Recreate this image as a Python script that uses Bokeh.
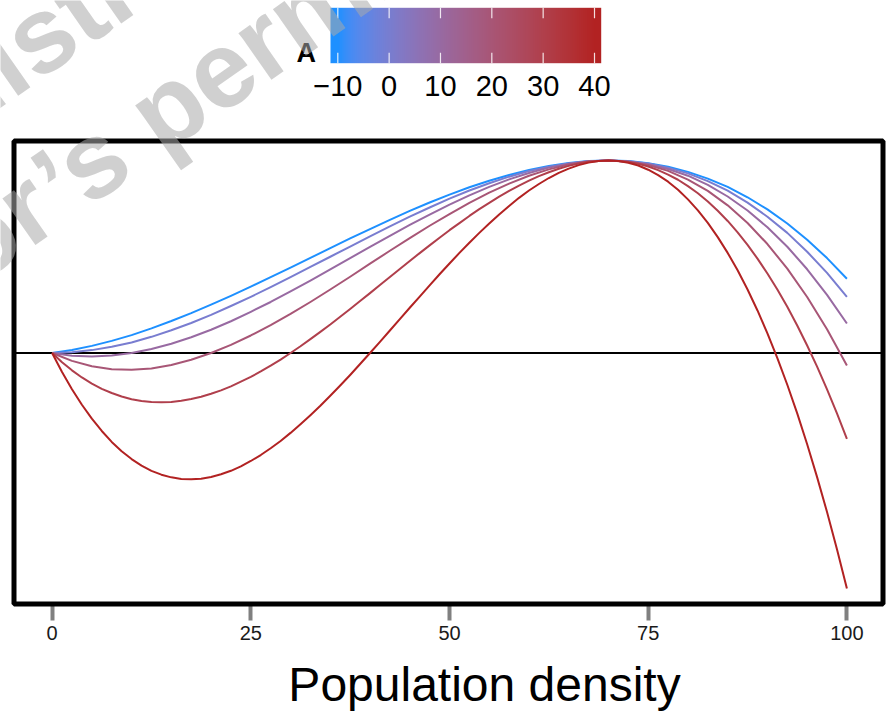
import numpy as np
from bokeh.plotting import figure
from bokeh.models import (ColumnDataSource, Range1d, FixedTicker, LinearColorMapper, Label,
                          LinearAxis, BoxAnnotation)
from bokeh.transform import linear_cmap
from bokeh.embed import file_html
from bokeh.resources import INLINE

# ---------------- data ----------------
x = [0, 2.5, 5, 7.5, 10, 12.5, 15, 17.5, 20, 22.5, 25, 27.5, 30, 32.5, 35, 37.5, 40,
     42.5, 45, 47.5, 50, 52.5, 55, 57.5, 60, 62.5, 65, 67.5, 70, 72.5, 75, 77.5, 80,
     82.5, 85, 87.5, 90, 92.5, 95, 97.5, 100]
x_fine = [0, 1.25, 2.5, 3.75, 5, 6.25, 7.5, 8.75, 10, 11.25, 12.5, 13.75, 15, 16.25, 17.5,
          18.75, 20, 21.25, 22.5, 23.75, 25, 26.25, 27.5, 28.75, 30, 31.25, 32.5, 33.75, 35,
          36.25, 37.5, 38.75, 40, 41.25, 42.5, 43.75, 45, 46.25, 47.5, 48.75, 50, 51.25,
          52.5, 53.75, 55, 56.25, 57.5, 58.75, 60, 61.25, 62.5, 63.75, 65, 66.25, 67.5,
          68.75, 70, 71.25, 72.5, 73.75, 75, 76.25, 77.5, 78.75, 80, 81.25, 82.5, 83.75, 85,
          86.25, 87.5, 88.75, 90, 91.25, 92.5, 93.75, 95, 96.25, 97.5, 98.75, 100]

A_values = [-10, 0, 10, 20, 30, 40]

y_a_m10 = [0, 0.016, 0.037, 0.063, 0.093, 0.128, 0.166, 0.207, 0.251, 0.297, 0.345, 0.394,
           0.444, 0.494, 0.545, 0.595, 0.644, 0.692, 0.738, 0.782, 0.823, 0.861, 0.895, 0.925,
           0.951, 0.972, 0.987, 0.997, 1.000, 0.997, 0.986, 0.968, 0.941, 0.906, 0.863, 0.809,
           0.746, 0.673, 0.588, 0.493, 0.386]
y_a_0 = [0, 0.004, 0.015, 0.032, 0.055, 0.084, 0.118, 0.156, 0.198, 0.244, 0.292, 0.342,
         0.394, 0.447, 0.500, 0.553, 0.606, 0.658, 0.708, 0.756, 0.802, 0.844, 0.882, 0.916,
         0.945, 0.968, 0.985, 0.996, 1.000, 0.996, 0.984, 0.963, 0.933, 0.893, 0.843, 0.781,
         0.708, 0.624, 0.526, 0.416, 0.292]
y_a_10 = [0, -0.014, -0.018, -0.013, 0, 0.021, 0.048, 0.082, 0.121, 0.165, 0.214, 0.265,
          0.320, 0.376, 0.434, 0.493, 0.551, 0.609, 0.665, 0.719, 0.771, 0.819, 0.863, 0.902,
          0.935, 0.963, 0.983, 0.996, 1.000, 0.995, 0.981, 0.956, 0.921, 0.873, 0.813, 0.740,
          0.653, 0.552, 0.435, 0.302, 0.153]
y_a_20 = [0, -0.041, -0.069, -0.084, -0.087, -0.080, -0.062, -0.035, 0, 0.042, 0.091, 0.145,
          0.203, 0.265, 0.330, 0.396, 0.464, 0.531, 0.597, 0.661, 0.722, 0.780, 0.833, 0.880,
          0.921, 0.954, 0.979, 0.995, 1.000, 0.994, 0.977, 0.946, 0.901, 0.842, 0.767, 0.675,
          0.566, 0.438, 0.291, 0.123, -0.065]
# the two most curved series are read at a finer step (x_fine)
y_a_30 = [0, -0.048, -0.090, -0.127, -0.159, -0.186, -0.208, -0.226, -0.240, -0.249,
          -0.255, -0.256, -0.254, -0.248, -0.239, -0.227, -0.212, -0.194, -0.173, -0.149,
          -0.124, -0.096, -0.066, -0.034, 0, 0.035, 0.072, 0.110, 0.148, 0.188,
          0.229, 0.270, 0.311, 0.353, 0.395, 0.436, 0.478, 0.519, 0.559, 0.599,
          0.638, 0.675, 0.712, 0.747, 0.780, 0.812, 0.842, 0.870, 0.895, 0.919,
          0.939, 0.957, 0.972, 0.984, 0.993, 0.998, 1.000, 0.998, 0.992, 0.983,
          0.969, 0.950, 0.927, 0.900, 0.867, 0.830, 0.787, 0.739, 0.686, 0.627,
          0.562, 0.490, 0.413, 0.330, 0.240, 0.143, 0.039, -0.071, -0.189, -0.314,
          -0.446]
y_a_40 = [0, -0.099, -0.188, -0.269, -0.341, -0.405, -0.462, -0.510, -0.551, -0.585,
          -0.612, -0.632, -0.646, -0.654, -0.656, -0.653, -0.644, -0.630, -0.612, -0.589,
          -0.561, -0.530, -0.495, -0.457, -0.415, -0.370, -0.323, -0.274, -0.222, -0.169,
          -0.114, -0.057, 0, 0.058, 0.117, 0.176, 0.235, 0.293, 0.351, 0.409,
          0.465, 0.520, 0.573, 0.624, 0.673, 0.720, 0.764, 0.806, 0.844, 0.878,
          0.909, 0.936, 0.958, 0.976, 0.989, 0.997, 1.000, 0.997, 0.988, 0.974,
          0.952, 0.924, 0.890, 0.848, 0.798, 0.741, 0.676, 0.602, 0.520, 0.430,
          0.330, 0.221, 0.102, -0.027, -0.165, -0.314, -0.474, -0.645, -0.826, -1.020,
          -1.224]

x_ticks = [0, 25, 50, 75, 100]
a_ticks = [-10, 0, 10, 20, 30, 40]
a_tick_labels = {-10: "\u221210", 0: "0", 10: "10", 20: "20", 30: "30", 40: "40"}
x_title = "Population density"
legend_title = "A"
A_LOW, A_HIGH = -10, 40

# ---------------- colour scale (Lab interpolation dodgerblue -> firebrick) -------------
def _lin(c):
    c = c / 255.0
    return c / 12.92 if c <= 0.04045 else ((c + 0.055) / 1.055) ** 2.4

def _gam(c):
    c = min(max(c, 0.0), 1.0)
    v = 12.92 * c if c <= 0.0031308 else 1.055 * c ** (1 / 2.4) - 0.055
    return int(round(v * 255))

def _f(t):
    return t ** (1 / 3) if t > 0.008856 else 7.787 * t + 16 / 116

def _finv(t):
    return t ** 3 if t ** 3 > 0.008856 else (t - 16 / 116) / 7.787

def rgb2lab(rgb):
    r, g, b = (_lin(v) for v in rgb)
    X = (0.4124 * r + 0.3576 * g + 0.1805 * b) / 0.95047
    Y = (0.2126 * r + 0.7152 * g + 0.0722 * b)
    Z = (0.0193 * r + 0.1192 * g + 0.9505 * b) / 1.08883
    fx, fy, fz = _f(X), _f(Y), _f(Z)
    return (116 * fy - 16, 500 * (fx - fy), 200 * (fy - fz))

def lab2hex(L, a, b):
    fy = (L + 16) / 116
    fx = fy + a / 500
    fz = fy - b / 200
    X, Y, Z = _finv(fx) * 0.95047, _finv(fy), _finv(fz) * 1.08883
    r = 3.2406 * X - 1.5372 * Y - 0.4986 * Z
    g = -0.9689 * X + 1.8758 * Y + 0.0415 * Z
    bb = 0.0557 * X - 0.2040 * Y + 1.0570 * Z
    return "#%02x%02x%02x" % (_gam(r), _gam(g), _gam(bb))

lo, hi = rgb2lab((30, 144, 255)), rgb2lab((178, 34, 34))
palette = [lab2hex(*[lo[k] + (hi[k] - lo[k]) * i / 255 for k in range(3)]) for i in range(256)]
mapper = LinearColorMapper(palette=palette, low=A_LOW, high=A_HIGH)

FONT = "Liberation Sans"
W, H = 887, 712

# ---------------- geometry (pixel layout of the canvas) ----------------
SX, X0PX = 7.948, 51.6          # px per x unit, pixel of x = 0
SY, Y0PX = 192.5, 352.5         # px per y unit, pixel of y = 0
XS, XE = -X0PX / SX, (W - X0PX) / SX
YS, YE = -(H - Y0PX) / SY, Y0PX / SY
SA, A0PX = 5.134, 337.3         # colour-bar px per A unit, pixel of A = -10
AS = A_LOW - A0PX / SA
AE = AS + W / SA

def px2x(px):
    return XS + px / SX

def py2y(py):
    return (Y0PX - py) / SY

PANEL_X0, PANEL_X1 = px2x(13.5), px2x(882.5)
PANEL_Y0, PANEL_Y1 = py2y(603.5), py2y(140.5)
CB_A0 = AS + 330.0 / SA
CB_A1 = AS + 600.7 / SA
CB_Y0, CB_Y1 = py2y(62.7), py2y(7.3)

p = figure(width=W, height=H, x_range=Range1d(XS, XE), y_range=Range1d(YS, YE),
           x_axis_location=None, y_axis_location=None, min_border=0,
           toolbar_location=None, output_backend="svg")
p.extra_x_ranges = {"A": Range1d(AS, AE)}
p.outline_line_color = None
p.grid.visible = False
p.background_fill_color = "white"
p.border_fill_color = "white"

# ---------------- colour bar ----------------
ramp = np.linspace(CB_A0, CB_A1, 400)[None, :]
p.image(image=[ramp], x=CB_A0, y=CB_Y0, dw=CB_A1 - CB_A0, dh=CB_Y1 - CB_Y0,
        color_mapper=mapper, x_range_name="A")
tk = 0.19 * (CB_Y1 - CB_Y0)
p.segment(x0=a_ticks, y0=[CB_Y0] * 6, x1=a_ticks, y1=[CB_Y0 + tk] * 6, line_color="white",
          line_width=1.2, line_alpha=0.85, x_range_name="A")
p.segment(x0=a_ticks, y0=[CB_Y1 - tk] * 6, x1=a_ticks, y1=[CB_Y1] * 6, line_color="white",
          line_width=1.2, line_alpha=0.85, x_range_name="A")
cax = LinearAxis(x_range_name="A", fixed_location=CB_Y0, ticker=FixedTicker(ticks=a_ticks))
cax.major_label_overrides = a_tick_labels
cax.axis_line_color = None
cax.major_tick_line_color = None
cax.minor_tick_line_color = None
cax.major_tick_out = 0
cax.major_tick_in = 0
cax.minor_tick_out = 0
cax.major_label_standoff = 13
cax.major_label_text_font = FONT
cax.major_label_text_font_size = "29px"
cax.major_label_text_color = "black"
p.add_layout(cax, "below")
p.add_layout(Label(x=px2x(296.0), y=py2y(52.5), text=legend_title, text_font=FONT,
                   text_font_style="bold", text_font_size="27px", text_align="left",
                   text_baseline="middle", text_color="black"))

# ---------------- main panel ----------------
p.segment(x0=PANEL_X0, y0=0, x1=PANEL_X1, y1=0, line_color="black", line_width=2)
src = ColumnDataSource(dict(xs=[x, x, x, x, x_fine, x_fine],
                            ys=[y_a_m10, y_a_0, y_a_10, y_a_20, y_a_30, y_a_40],
                            A=A_values))
p.multi_line("xs", "ys", source=src, line_width=2, line_join="round",
             line_color=linear_cmap("A", palette, A_LOW, A_HIGH))
p.add_layout(BoxAnnotation(left=PANEL_X0, right=PANEL_X1, bottom=PANEL_Y0, top=PANEL_Y1,
                           fill_color=None, fill_alpha=0, line_color="black", line_width=5,
                           line_alpha=1))

ax = LinearAxis(fixed_location=PANEL_Y0, ticker=FixedTicker(ticks=x_ticks))
ax.axis_line_color = None
ax.major_tick_line_color = "#808080"
ax.major_tick_line_width = 4
ax.major_tick_out = 16
ax.major_tick_in = 0
ax.minor_tick_line_color = None
ax.major_label_standoff = 6
ax.major_label_text_font = FONT
ax.major_label_text_font_size = "20px"
ax.major_label_text_color = "#1a1a1a"
p.add_layout(ax, "below")
p.add_layout(Label(x=px2x(484), y=py2y(684), text=x_title, text_font=FONT,
                   text_font_size="48px", text_align="center", text_baseline="middle",
                   text_color="black"))

# ---------------- watermark overlay ----------------
WM_COLOR = "#a9a9a9"
WM_ALPHA = 0.55
WM_ANGLE = np.deg2rad(35)
WM_SIZE = "108px"
watermark = [("redistribute", -147.8, 165.1), ("author\u2019s permission", -233.5, 386.7)]
for txt, px, py in watermark:
    p.add_layout(Label(x=px2x(px), y=py2y(py), text=txt, angle=WM_ANGLE, text_font=FONT,
                       text_font_style="bold", text_font_size=WM_SIZE,
                       text_color=WM_COLOR, text_alpha=WM_ALPHA,
                       text_align="left", text_baseline="middle"))

open("out.html", "w").write(file_html(p, INLINE))
